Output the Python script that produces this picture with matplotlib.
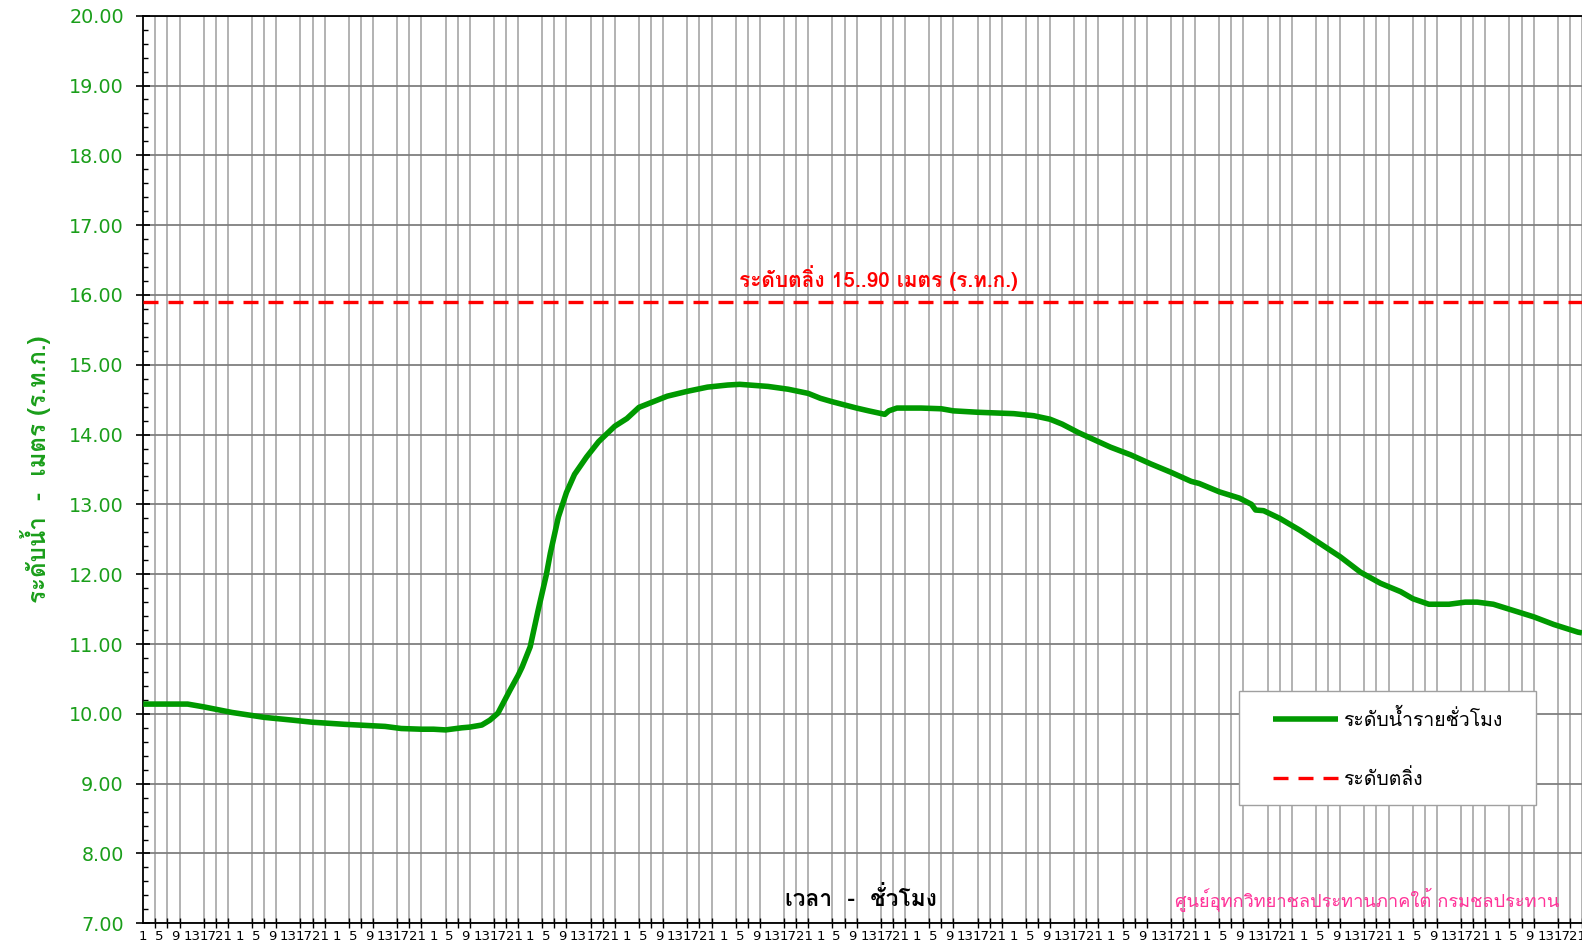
import matplotlib
matplotlib.use("Agg")
import matplotlib.pyplot as plt
from matplotlib import font_manager
from matplotlib.ft2font import FT2Font
from matplotlib.patches import Rectangle
from matplotlib.ticker import MultipleLocator, FixedLocator, FixedFormatter

# hourly water level (m MSL), hour index from first reading
hours = [0, 11, 15, 22, 30, 37, 42, 50, 60, 64, 69, 72, 75, 79, 81, 84, 86, 88,
         89, 91, 93, 94, 96, 98, 100, 101, 103, 105, 107, 110, 113, 117, 120, 123,
         130, 135, 140, 145, 148, 155, 160, 165, 168, 171, 177, 180, 184, 185, 187,
         193, 198, 201, 207, 216, 221, 225, 228, 232, 240, 245, 250, 255, 260, 262,
         267, 272, 275, 276, 278, 282, 287, 292, 297, 302, 307, 312, 315, 319, 324,
         328, 331, 335, 340, 345, 350, 356, 357]
levels = [10.14, 10.14, 10.10, 10.02, 9.95, 9.91, 9.88, 9.85, 9.82, 9.79, 9.78, 9.78,
          9.77, 9.80, 9.81, 9.84, 9.91, 10.01, 10.12, 10.34, 10.55, 10.67, 10.96, 11.49,
          11.99, 12.30, 12.82, 13.17, 13.43, 13.68, 13.90, 14.12, 14.23, 14.39,
          14.55, 14.62, 14.68, 14.71, 14.72, 14.69, 14.65, 14.59, 14.52, 14.47, 14.38,
          14.34, 14.29, 14.34, 14.38, 14.38, 14.37, 14.34, 14.32, 14.30, 14.27, 14.22,
          14.15, 14.03, 13.82, 13.71, 13.58, 13.46, 13.33, 13.30, 13.18, 13.09, 13.00,
          12.92, 12.91, 12.80, 12.63, 12.44, 12.25, 12.03, 11.87, 11.75, 11.65, 11.57,
          11.57, 11.60, 11.60, 11.57, 11.48, 11.39, 11.28, 11.17, 11.16]

bank_level = 15.90
hour_labels = ["1", "5", "9", "13", "17", "21"]
n_hours = 360

# pick a font that has Thai glyphs
thai_fonts = []
for f in font_manager.fontManager.ttflist:
    try:
        if FT2Font(f.fname).get_char_index(0x0E01):
            if f.name not in thai_fonts:
                thai_fonts.append(f.name)
    except Exception:
        pass
pref = ["Tahoma", "Loma", "Noto Sans Thai", "Garuda", "Waree", "Tlwg Typo", "Sarabun"]
thai = next((p for p in pref if p in thai_fonts), thai_fonts[0] if thai_fonts else "DejaVu Sans")
fam = [thai, "DejaVu Sans"]
plt.rcParams["font.family"] = fam

W, H = 1582, 947
fig = plt.figure(figsize=(W / 100, H / 100), dpi=100)
left, right, top, bottom = 143.3, 143.3 + n_hours * 4.03, 15.7, 923.3
ax = fig.add_axes([left / W, 1 - bottom / H, (right - left) / W, (bottom - top) / H])

green = "#009900"
ax.plot(hours, levels, color=green, lw=4, solid_capstyle="butt", solid_joinstyle="round",
        label="ระดับน้ำรายชั่วโมง", zorder=3)
ax.axhline(bank_level, color="red", lw=2.4, dashes=(4.5, 3), label="ระดับตลิ่ง", zorder=3)

ax.set_xlim(0, n_hours)
ax.set_ylim(7, 20)

# y axis
ax.yaxis.set_major_locator(MultipleLocator(1))
ax.yaxis.set_minor_locator(MultipleLocator(0.2))
ax.yaxis.set_major_formatter(matplotlib.ticker.FormatStrFormatter("%.2f"))
ax.tick_params(axis="y", which="major", direction="inout", length=10, width=1.2,
               labelsize=13.8, labelcolor="#1a9e1a", pad=9)
ax.tick_params(axis="y", which="minor", direction="in", length=3.5, width=1)
for t in ax.get_yticklabels():
    t.set_family("DejaVu Sans")

# x axis: labels every 4 hours, tick marks / grid every 3 hours
lab_pos = list(range(0, n_hours, 4))
ax.xaxis.set_major_locator(FixedLocator(lab_pos))
ax.xaxis.set_major_formatter(FixedFormatter([hour_labels[(p % 24) // 4] for p in lab_pos]))
ax.xaxis.set_minor_locator(MultipleLocator(3))
ax.tick_params(axis="x", which="major", length=0, labelsize=9.5, pad=5)
ax.tick_params(axis="x", which="minor", direction="inout", length=7, width=1)
for t in ax.get_xticklabels():
    t.set_family("DejaVu Sans")

ax.grid(False)
ax.grid(True, which="minor", axis="x", color="#a6a6a6", lw=1.2, zorder=0)
ax.grid(True, which="major", axis="y", color="#7f7f7f", lw=1.3, zorder=0)

for s in ["left", "top", "bottom"]:
    ax.spines[s].set_color("black")
    ax.spines[s].set_linewidth(1.3)
ax.spines["right"].set_visible(False)

ax.text(182.3, 16.24, "ระดับตลิ่ง 15..90 เมตร (ร.ท.ก.)", color="red", fontsize=15,
        fontweight="bold", ha="center", va="center", family=fam)

fig.text(35.3 / W, 1 - 469 / H, "ระดับน้ำ  -  เมตร (ร.ท.ก.)", rotation=90, color="#1a9e1a",
         fontsize=17.3, fontweight="bold", ha="center", va="center", family=fam)
fig.text(860.6 / W, 1 - 897.6 / H, "เวลา  -  ชั่วโมง", color="black", fontsize=16.4,
         fontweight="bold", ha="center", va="center", family=fam)
fig.text(1367 / W, 1 - 898.6 / H, "ศูนย์อุทกวิทยาชลประทานภาคใต้ กรมชลประทาน", color="#ff3399",
         fontsize=13.1, ha="center", va="center", family=fam)

# legend box drawn separately so the entries sit where they do in the original
box = Rectangle((1239.3 / W, 1 - 805 / H), (1536 - 1239.3) / W, (805 - 690.7) / H,
                transform=fig.transFigure, facecolor="white", edgecolor="#a0a0a0",
                lw=1, zorder=4, clip_on=False)
ax.add_patch(box)
leg = ax.legend(loc="upper left", bbox_to_anchor=(1273 / W, 1 - 709 / H),
                bbox_transform=fig.transFigure, fontsize=14, frameon=False,
                handlelength=3.35, labelspacing=2.0, borderpad=0, handletextpad=0.25,
                borderaxespad=0)
leg.set_zorder(5)

fig.savefig("out.png", dpi=100)
